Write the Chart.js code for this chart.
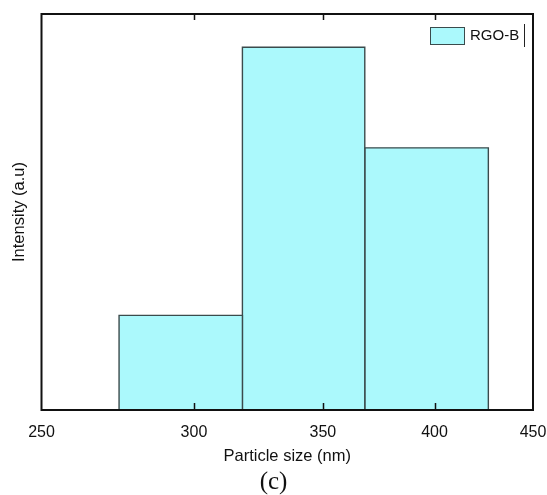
<!DOCTYPE html>
<html>
<head>
<meta charset="utf-8">
<script src="https://cdn.jsdelivr.net/npm/chart.js@4/dist/chart.umd.min.js"></script>
<style>
  html, body { margin: 0; padding: 0; background: #fff; }
  #chart { display: block; }
</style>
</head>
<body>
<canvas id="chart" width="547" height="495"></canvas>
<script>
// histogram bins (nm), log-spaced, and bar heights in arbitrary units
const binEdges = [274.3, 317.9, 368.0, 426.6];
const intensity = [23.9, 91.6, 66.2];
const xTicks = [250, 300, 350, 400, 450];
const seriesName = 'RGO-B';

const BAR_FILL = '#abf9fc';
const BAR_LINE = '#3b4b4c';
const FONT = "'Liberation Sans', Arial, sans-serif";

//each bar is a closed box drawn as its own line dataset so the log x scale places it
const datasets = intensity.map((h, i) => ({
    label: seriesName,
    data: [
        { x: binEdges[i], y: 0 },
        { x: binEdges[i], y: h },
        { x: binEdges[i + 1], y: h },
        { x: binEdges[i + 1], y: 0 }
    ],
    fill: 'origin',
    backgroundColor: BAR_FILL,
    borderColor: BAR_LINE,
    borderWidth: 1.4,
    pointRadius: 0,
    tension: 0
}));

const framePlugin = {
    id: 'frame',
    afterDatasetsDraw(chart) {
        const ctx = chart.ctx;
        const area = chart.chartArea;
        const x = chart.scales.x;
        ctx.save();
        ctx.strokeStyle = '#111';
        ctx.lineWidth = 1.5;
        //inward ticks on top and bottom
        xTicks.slice(1, -1).forEach(v => {
            const px = Math.round(x.getPixelForValue(v)) + 0.5;
            ctx.beginPath();
            ctx.moveTo(px, area.bottom);
            ctx.lineTo(px, area.bottom - 7);
            ctx.moveTo(px, area.top);
            ctx.lineTo(px, area.top + 6);
            ctx.stroke();
        });
        ctx.lineWidth = 2;
        ctx.strokeRect(area.left, area.top, area.right - area.left, area.bottom - area.top);

        //legend in the upper right corner
        const lx = area.right - 103;
        const ly = area.top + 13;
        ctx.fillStyle = BAR_FILL;
        ctx.fillRect(lx, ly, 34, 17);
        ctx.strokeStyle = BAR_LINE;
        ctx.lineWidth = 1;
        ctx.strokeRect(lx + 0.5, ly + 0.5, 34, 17);
        ctx.fillStyle = '#111';
        ctx.font = '15px ' + FONT;
        ctx.textBaseline = 'middle';
        ctx.fillText(seriesName, lx + 40, ly + 9);
        ctx.strokeStyle = '#222';
        ctx.beginPath();
        ctx.moveTo(area.right - 8.5, ly - 3);
        ctx.lineTo(area.right - 8.5, ly + 20);
        ctx.stroke();
        ctx.restore();
    }
};

new Chart(document.getElementById('chart').getContext('2d'), {
    type: 'line',
    data: { datasets },
    options: {
        responsive: false,
        animation: false,
        layout: { padding: { top: 14, right: 0, left: 0, bottom: 0 } },
        scales: {
            x: {
                type: 'logarithmic',
                min: 250,
                max: 450,
                afterBuildTicks: axis => { axis.ticks = xTicks.map(v => ({ value: v })); },
                afterFit: scale => {
                    scale.height = 58;
                    scale.paddingLeft = 0;
                    scale.paddingRight = 14;
                },
                ticks: {
                    callback: v => String(v),
                    color: '#111',
                    font: { family: FONT, size: 16 },
                    padding: 5,
                    maxRotation: 0,
                    autoSkip: false
                },
                grid: { display: false },
                border: { display: false },
                title: {
                    display: true,
                    text: 'Particle size (nm)',
                    color: '#111',
                    font: { family: FONT, size: 16.5 },
                    padding: { top: 0, bottom: 2 }
                }
            },
            y: {
                min: 0,
                max: 100,
                afterFit: scale => { scale.width = 41.5; },
                ticks: { display: false },
                grid: { display: false },
                border: { display: false },
                title: {
                    display: true,
                    text: 'Intensity (a.u)',
                    color: '#111',
                    font: { family: FONT, size: 16.5 },
                    padding: { top: 10, bottom: 0 }
                }
            }
        },
        plugins: {
            legend: { display: false },
            tooltip: { enabled: false },
            title: {
                display: true,
                position: 'bottom',
                text: '(c)',
                color: '#111',
                font: { family: "'Liberation Serif', 'Times New Roman', serif", size: 25, weight: 'normal', lineHeight: 1 },
                padding: { top: 2, bottom: 0 }
            }
        }
    },
    plugins: [framePlugin]
});
</script>
</body>
</html>
